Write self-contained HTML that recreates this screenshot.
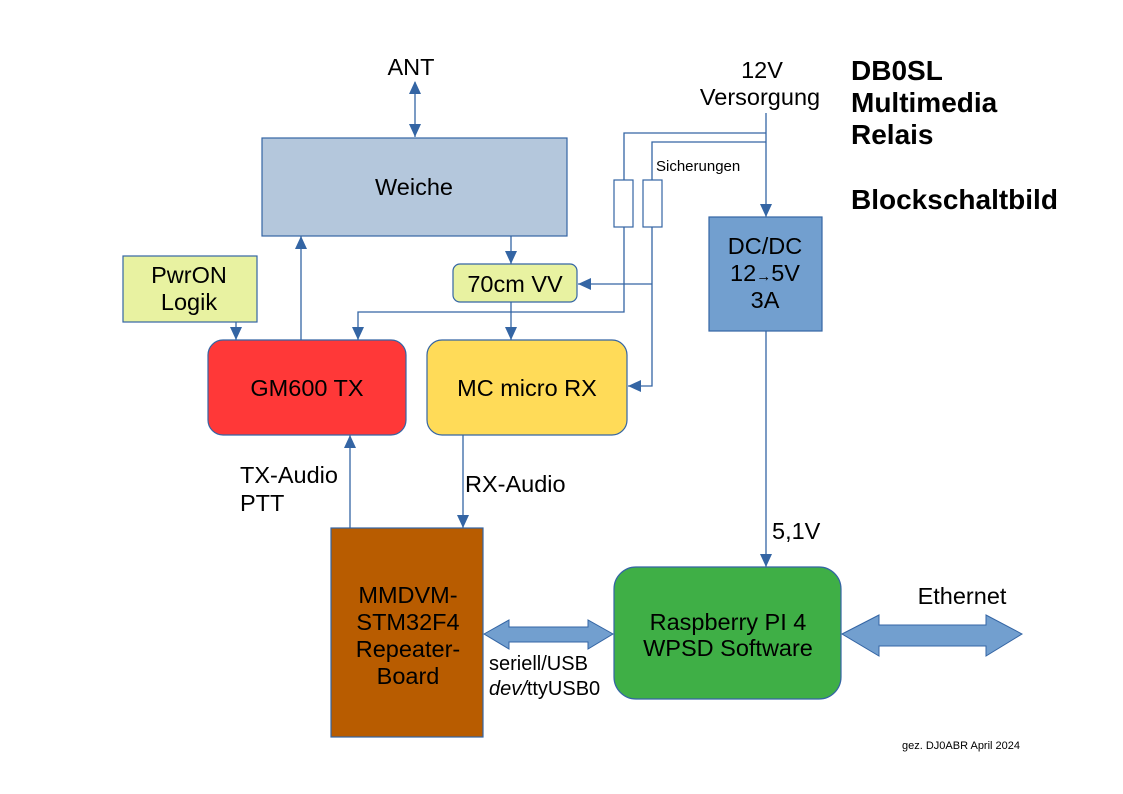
<!DOCTYPE html>
<html><head><meta charset="utf-8"><style>
html,body{margin:0;padding:0;background:#fff}
svg{display:block}
text{font-family:"Liberation Sans",sans-serif;fill:#000}
</style></head><body>
<svg width="1123" height="794" viewBox="0 0 1123 794" xmlns="http://www.w3.org/2000/svg">
<defs>
<marker id="a" markerWidth="14" markerHeight="12" refX="13" refY="6" orient="auto" markerUnits="userSpaceOnUse">
<path d="M0,0 L13,6 L0,12 Z" fill="#3465a4"/></marker>
<marker id="s" markerWidth="14" markerHeight="12" refX="1" refY="6" orient="auto" markerUnits="userSpaceOnUse">
<path d="M13,0 L0,6 L13,12 Z" fill="#3465a4"/></marker>
</defs>
<g stroke="#3465a4" stroke-width="1.3" fill="none">
<line x1="415" y1="82" x2="415" y2="137" marker-start="url(#s)" marker-end="url(#a)"/>
<line x1="766" y1="113" x2="766" y2="217" marker-end="url(#a)"/>
<polyline points="766,133 624,133 624,180"/>
<polyline points="766,142 652,142 652,180"/>
<polyline points="624,227 624,312 358,312 358,340" marker-end="url(#a)"/>
<polyline points="652,227 652,386 628,386" marker-end="url(#a)"/>
<polyline points="652,284 578,284" marker-end="url(#a)"/>
<line x1="511" y1="236" x2="511" y2="264" marker-end="url(#a)"/>
<line x1="511" y1="302" x2="511" y2="340" marker-end="url(#a)"/>
<line x1="236" y1="322" x2="236" y2="340" marker-end="url(#a)"/>
<line x1="301" y1="340" x2="301" y2="236" marker-end="url(#a)"/>
<line x1="350" y1="528" x2="350" y2="435" marker-end="url(#a)"/>
<line x1="463" y1="435" x2="463" y2="528" marker-end="url(#a)"/>
<line x1="766" y1="331" x2="766" y2="567" marker-end="url(#a)"/>
</g>
<rect x="614" y="180" width="19" height="47" fill="#fff" stroke="#3465a4" stroke-width="1.2"/>
<rect x="643" y="180" width="19" height="47" fill="#fff" stroke="#3465a4" stroke-width="1.2"/>
<rect x="262" y="138" width="305" height="98" fill="#b4c7dc" stroke="#3465a4" stroke-width="1.2"/>
<rect x="453" y="264" width="124" height="38" rx="7" fill="#e8f2a1" stroke="#3465a4" stroke-width="1.2"/>
<rect x="123" y="256" width="134" height="66" fill="#e8f2a1" stroke="#3465a4" stroke-width="1.2"/>
<rect x="709" y="217" width="113" height="114" fill="#729fcf" stroke="#3465a4" stroke-width="1.2"/>
<rect x="208" y="340" width="198" height="95" rx="15" fill="#ff3838" stroke="#3465a4" stroke-width="1.2"/>
<rect x="427" y="340" width="200" height="95" rx="15" fill="#ffdb58" stroke="#3465a4" stroke-width="1.2"/>
<rect x="331" y="528" width="152" height="209" fill="#b85c00" stroke="#3465a4" stroke-width="1.2"/>
<rect x="614" y="567" width="227" height="132" rx="22" fill="#3faf46" stroke="#3465a4" stroke-width="1.2"/>
<path d="M484,634 L509,620 L509,627 L588,627 L588,620 L613,634 L588,649 L588,642 L509,642 L509,649 Z" fill="#729fcf" stroke="#3465a4" stroke-width="1"/>
<path d="M842,634 L879,615 L879,625 L986,625 L986,615 L1022,634 L986,656 L986,646 L879,646 L879,656 Z" fill="#729fcf" stroke="#3465a4" stroke-width="1"/>
<g font-size="23.5" text-anchor="middle">
<text x="411" y="75">ANT</text>
<text x="762" y="78">12V</text>
<text x="760" y="105">Versorgung</text>
<text x="414" y="195">Weiche</text>
<text x="515" y="292">70cm VV</text>
<text x="189" y="283">PwrON</text>
<text x="189" y="310">Logik</text>
<text x="765" y="254">DC/DC</text>
<text x="765" y="281">12<tspan font-size="15">→</tspan>5V</text>
<text x="765" y="308">3A</text>
<text x="307" y="396">GM600 TX</text>
<text x="527" y="396">MC micro RX</text>
<text x="408" y="603">MMDVM-</text>
<text x="408" y="630">STM32F4</text>
<text x="408" y="657">Repeater-</text>
<text x="408" y="684">Board</text>
<text x="728" y="630">Raspberry PI 4</text>
<text x="728" y="656">WPSD Software</text>
<text x="962" y="604">Ethernet</text>
</g>
<g font-size="23.5">
<text x="240" y="483">TX-Audio</text>
<text x="240" y="511">PTT</text>
<text x="465" y="492">RX-Audio</text>
<text x="772" y="539">5,1V</text>
</g>
<g font-size="20">
<text x="489" y="670">seriell/USB</text>
<text x="489" y="695"><tspan font-style="italic">dev/</tspan>ttyUSB0</text>
</g>
<text x="656" y="171" font-size="15">Sicherungen</text>
<g font-size="28" font-weight="bold">
<text x="851" y="80">DB0SL</text>
<text x="851" y="112">Multimedia</text>
<text x="851" y="144">Relais</text>
<text x="851" y="209">Blockschaltbild</text>
</g>
<text x="902" y="749" font-size="11">gez. DJ0ABR April 2024</text>
</svg>
</body></html>
